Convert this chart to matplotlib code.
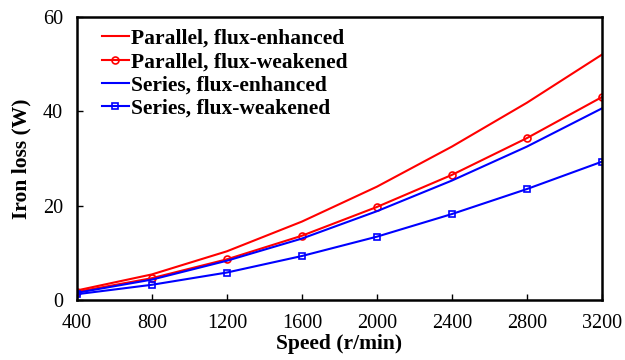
import matplotlib
matplotlib.use('Agg')
import matplotlib.pyplot as plt

plt.rcParams['font.family'] = ['Liberation Serif', 'DejaVu Serif']

# Data
speed = [400, 800, 1200, 1600, 2000, 2400, 2800, 3200]
par_enh = [2.0, 5.4, 10.3, 16.6, 24.0, 32.5, 41.8, 52.0]
par_weak = [1.7, 4.6, 8.6, 13.6, 19.7, 26.5, 34.3, 43.0]
ser_enh = [1.5, 4.3, 8.3, 13.0, 18.8, 25.3, 32.5, 40.6]
ser_weak = [1.2, 3.2, 5.8, 9.3, 13.4, 18.2, 23.5, 29.3]

fig = plt.figure(figsize=(6.25, 3.6), dpi=100)
ax = fig.add_axes([0.123, 0.167, 0.840, 0.786])

ax.plot(speed, par_enh, color='red', lw=1.5, label='Parallel, flux-enhanced')
ax.plot(speed, par_weak, color='red', lw=1.5, marker='o', ms=5, mfc='none',
        mew=1.2, label='Parallel, flux-weakened')
ax.plot(speed, ser_enh, color='blue', lw=1.5, label='Series, flux-enhanced')
ax.plot(speed, ser_weak, color='blue', lw=1.5, marker='s', ms=5, mfc='none',
        mew=1.2, label='Series, flux-weakened')

ax.set_xlim(400, 3200)
ax.set_ylim(0, 60)
ax.set_xticks(speed)
ax.set_yticks([0, 20, 40, 60])
ax.tick_params(direction='in', length=4, width=1, labelsize=14.5, pad=10)
for s in ax.spines.values():
    s.set_linewidth(1.8)

ax.set_xlabel('Speed (r/min)', fontsize=15.5, fontweight='bold', labelpad=1)
ax.set_ylabel('Iron loss (W)', fontsize=15.5, fontweight='bold', labelpad=8)

ax.legend(loc='upper left', bbox_to_anchor=(0.025, 1.0), frameon=False,
          handlelength=1.25, handletextpad=0.1, labelspacing=0.15,
          borderaxespad=0.25, borderpad=0.3,
          prop={'weight': 'bold', 'size': 15.5})

fig.savefig('out.png', dpi=100)
